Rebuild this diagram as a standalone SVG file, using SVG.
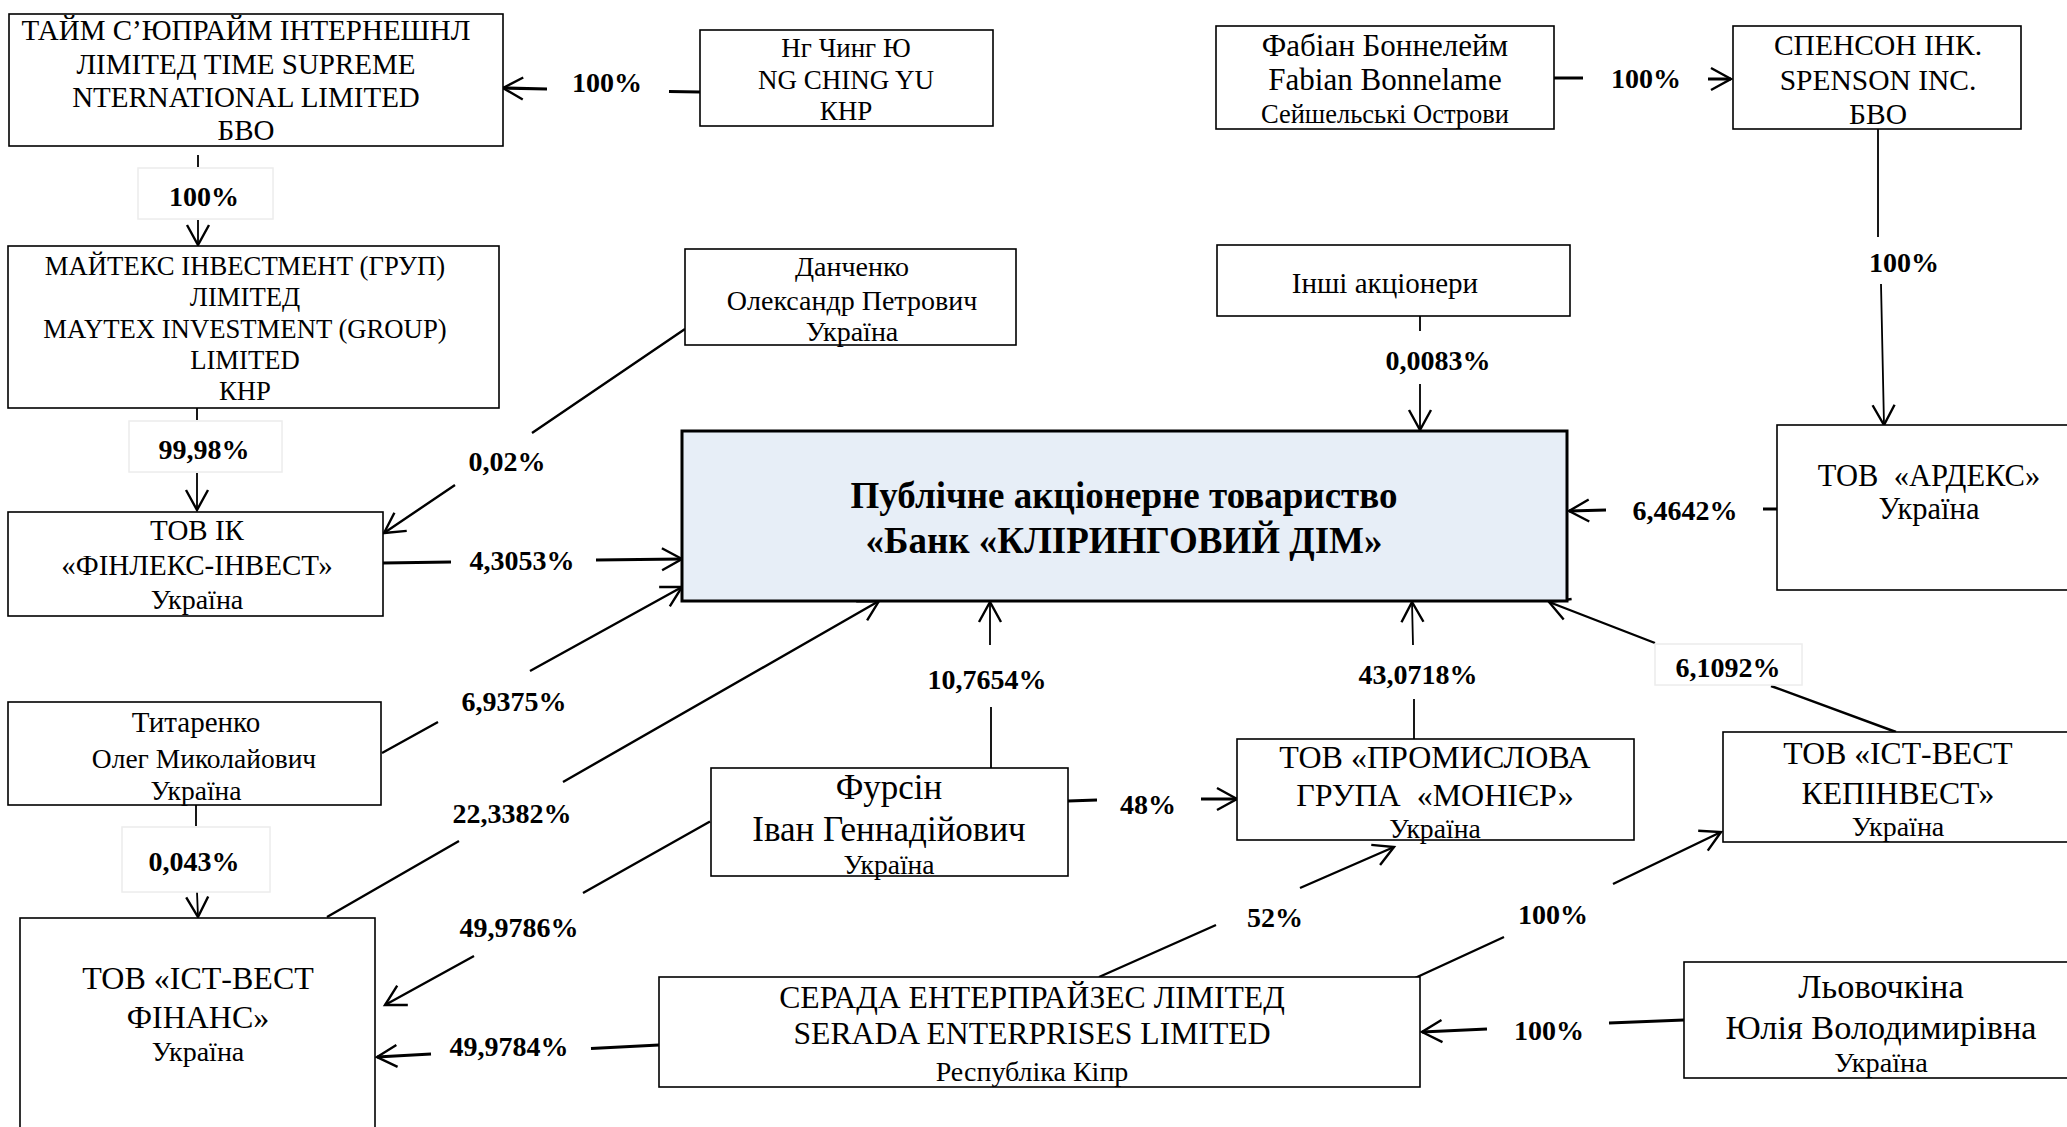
<svg xmlns="http://www.w3.org/2000/svg" width="2067" height="1127" viewBox="0 0 2067 1127">
<style>
.box{fill:#fff;stroke:#000;stroke-width:1.6}
.bank{fill:#E7EEF7;stroke:#000;stroke-width:3}
.t{font-family:"Liberation Serif","Times New Roman",serif;fill:#000;text-anchor:middle}
.b{font-family:"Liberation Serif","Times New Roman",serif;font-weight:bold;font-size:28px;text-anchor:middle;fill:#000}
.bt{font-family:"Liberation Serif","Times New Roman",serif;font-weight:bold;font-size:37px;text-anchor:middle;fill:#000}
.c{fill:none;stroke:#000;stroke-width:2.4;marker-end:url(#ah)}
.c3{stroke-width:3.2}
.cv{stroke-width:1.8}
.lb{fill:#fff;stroke:#ececec;stroke-width:1.5}
</style>
<defs>
<marker id="ah" markerUnits="userSpaceOnUse" markerWidth="40" markerHeight="40" viewBox="-30 -20 40 40" refX="0" refY="0" orient="auto" overflow="visible">
<path d="M-20,-11 L0,0 L-20,11" fill="none" stroke="#000" stroke-width="2.4"/>
</marker>
</defs>

<g id="connectors">
<path class="c c3" d="M700,92 L669,91.5 M547,89 L503,88"/>
<path class="c cv" d="M198,155 L198,167 M198,220 L198,245"/>
<path class="c cv" d="M197,408 L197,420 M197,473 L197,510"/>
<path class="c" d="M685,329 L532,433 M455,485 L384,533"/>
<path class="c c3" d="M383,563 L451,562 M596,560 L682,559"/>
<path class="c" d="M382,753 L438,722 M530,671 L682,587"/>
<path class="c" d="M327,917 L459,841 M563,782 L879,601"/>
<path class="c cv" d="M991,768 L991,707 M990,645 L990,602"/>
<path class="c" d="M710,821.5 L583,893 M474,956 L385,1005"/>
<path class="c c3" d="M1068,801 L1097,800 M1201,799 L1237,799"/>
<path class="c cv" d="M1414,739 L1414,699 M1413,645 L1412,602"/>
<path class="c" d="M1896,732 L1771,686 M1655,643 L1549,602"/>
<path class="c" d="M1099,977 L1216,925 M1300,888 L1394,847"/>
<path class="c" d="M1415,978 L1504,937 M1613,884 L1721,832"/>
<path class="c c3" d="M659,1045 L591,1048.5 M431,1054 L377,1057"/>
<path class="c c3" d="M1684,1020 L1609,1023 M1487,1029 L1422,1032"/>
<path class="c c3" d="M1554,78 L1583,78 M1708,79 L1731,79"/>
<path class="c cv" d="M1878,129 L1878,237 M1881,284 L1884,425"/>
<path class="c cv" d="M1420,316 L1420,331 M1420,384 L1420,430"/>
<path class="c c3" d="M1777,509 L1763,509 M1606,510 L1569,511"/>
<path class="c cv" d="M196,805 L196,826 M197,892 L198,917"/>

<rect class="lb" x="138" y="168" width="135" height="51"/>
<rect class="lb" x="129" y="421" width="153" height="51"/>
<rect class="lb" x="1655" y="644" width="147" height="41"/>
<rect class="lb" x="122" y="827" width="148" height="65"/>

<text class="b" x="607" y="92">100%</text>
<text class="b" x="204" y="206">100%</text>
<text class="b" x="204" y="459">99,98%</text>
<text class="b" x="507" y="471">0,02%</text>
<text class="b" x="522" y="570">4,3053%</text>
<text class="b" x="514" y="711">6,9375%</text>
<text class="b" x="512" y="823">22,3382%</text>
<text class="b" x="987" y="689">10,7654%</text>
<text class="b" x="519" y="937">49,9786%</text>
<text class="b" x="1148" y="814">48%</text>
<text class="b" x="1418" y="684">43,0718%</text>
<text class="b" x="1728" y="677">6,1092%</text>
<text class="b" x="1275" y="927">52%</text>
<text class="b" x="1553" y="924">100%</text>
<text class="b" x="509" y="1056">49,9784%</text>
<text class="b" x="1549" y="1040">100%</text>
<text class="b" x="1646" y="88">100%</text>
<text class="b" x="1904" y="272">100%</text>
<text class="b" x="1438" y="370">0,0083%</text>
<text class="b" x="1685" y="520">6,4642%</text>
<text class="b" x="194" y="871">0,043%</text>
</g>

<g id="n-time" class="t" font-size="29">
<rect class="box" x="9" y="14" width="494" height="132"/>
<text x="246" y="40">ТАЙМ С’ЮПРАЙМ ІНТЕРНЕШНЛ</text>
<text x="246" y="74">ЛІМІТЕД TIME SUPREME</text>
<text x="246" y="107">NTERNATIONAL LIMITED</text>
<text x="246" y="140">БВО</text>
</g>
<g id="n-ng" class="t" font-size="27">
<rect class="box" x="700" y="30" width="293" height="96"/>
<text x="846" y="57">Нг Чинг Ю</text>
<text x="846" y="89">NG CHING YU</text>
<text x="846" y="120">КНР</text>
</g>
<g id="n-maytex" class="t" font-size="26.7">
<rect class="box" x="8" y="246" width="491" height="162"/>
<text x="245" y="275">МАЙТЕКС ІНВЕСТМЕНТ (ГРУП)</text>
<text x="245" y="306">ЛІМІТЕД</text>
<text x="245" y="338">MAYTEX INVESTMENT (GROUP)</text>
<text x="245" y="369">LIMITED</text>
<text x="245" y="400">КНР</text>
</g>
<g id="n-finlex" class="t" font-size="29">
<rect class="box" x="8" y="512" width="375" height="104"/>
<text x="197" y="540">ТОВ ІК</text>
<text x="197" y="575">«ФІНЛЕКС-ІНВЕСТ»</text>
<text x="197" y="609" font-size="28">Україна</text>
</g>
<g id="n-danchenko" class="t" font-size="28">
<rect class="box" x="685" y="249" width="331" height="96"/>
<text x="852" y="276">Данченко</text>
<text x="852" y="310">Олександр Петрович</text>
<text x="852" y="341">Україна</text>
</g>
<g id="n-bank">
<rect class="bank" x="682" y="431" width="885" height="170"/>
<text class="bt" x="1124" y="508">Публічне акціонерне товариство</text>
<text class="bt" x="1124" y="553">«Банк «КЛІРИНГОВИЙ ДІМ»</text>
</g>
<g id="n-fabian" class="t" font-size="31">
<rect class="box" x="1216" y="26" width="338" height="103"/>
<text x="1385" y="56">Фабіан Боннелейм</text>
<text x="1385" y="90">Fabian Bonnelame</text>
<text x="1385" y="123" font-size="26.5">Сейшельські Острови</text>
</g>
<g id="n-spenson" class="t" font-size="29.5">
<rect class="box" x="1733" y="26" width="288" height="103"/>
<text x="1878" y="55">СПЕНСОН ІНК.</text>
<text x="1878" y="90">SPENSON INC.</text>
<text x="1878" y="124">БВО</text>
</g>
<g id="n-others" class="t" font-size="29">
<rect class="box" x="1217" y="245" width="353" height="71"/>
<text x="1385" y="293">Інші акціонери</text>
</g>
<g id="n-ardeks" class="t" font-size="30.5">
<rect class="box" x="1777" y="425" width="310" height="165"/>
<text x="1929" y="486" xml:space="preserve">ТОВ  «АРДЕКС»</text>
<text x="1929" y="519">Україна</text>
</g>
<g id="n-tytarenko" class="t" font-size="27.5">
<rect class="box" x="8" y="702" width="373" height="103"/>
<text x="196" y="732" font-size="29">Титаренко</text>
<text x="204" y="768">Олег Миколайович</text>
<text x="196" y="800">Україна</text>
</g>
<g id="n-istwest-finans" class="t" font-size="32">
<rect class="box" x="20" y="918" width="355" height="230"/>
<text x="198" y="989">ТОВ «ІСТ-ВЕСТ</text>
<text x="198" y="1028">ФІНАНС»</text>
<text x="198" y="1061" font-size="28">Україна</text>
</g>
<g id="n-fursin" class="t" font-size="35">
<rect class="box" x="711" y="768" width="357" height="108"/>
<text x="889" y="799">Фурсін</text>
<text x="889" y="841">Іван Геннадійович</text>
<text x="889" y="874" font-size="27.5">Україна</text>
</g>
<g id="n-monier" class="t" font-size="32">
<rect class="box" x="1237" y="739" width="397" height="101"/>
<text x="1435" y="768">ТОВ «ПРОМИСЛОВА</text>
<text x="1435" y="806" xml:space="preserve">ГРУПА  «МОНІЄР»</text>
<text x="1435" y="838" font-size="27.7">Україна</text>
</g>
<g id="n-kepinvest" class="t" font-size="31.7">
<rect class="box" x="1723" y="732" width="360" height="110"/>
<text x="1898" y="764">ТОВ «ІСТ-ВЕСТ</text>
<text x="1898" y="804">КЕПІНВЕСТ»</text>
<text x="1898" y="836" font-size="28">Україна</text>
</g>
<g id="n-serada" class="t" font-size="31.7">
<rect class="box" x="659" y="977" width="761" height="110"/>
<text x="1032" y="1008">СЕРАДА ЕНТЕРПРАЙЗЕС ЛІМІТЕД</text>
<text x="1032" y="1044">SERADA ENTERPRISES LIMITED</text>
<text x="1032" y="1081" font-size="28">Республіка Кіпр</text>
</g>
<g id="n-lyovochkina" class="t" font-size="34.3">
<rect class="box" x="1684" y="962" width="400" height="116"/>
<text x="1881" y="998">Льовочкіна</text>
<text x="1881" y="1039">Юлія Володимирівна</text>
<text x="1881" y="1072" font-size="28.3">Україна</text>
</g>
</svg>
